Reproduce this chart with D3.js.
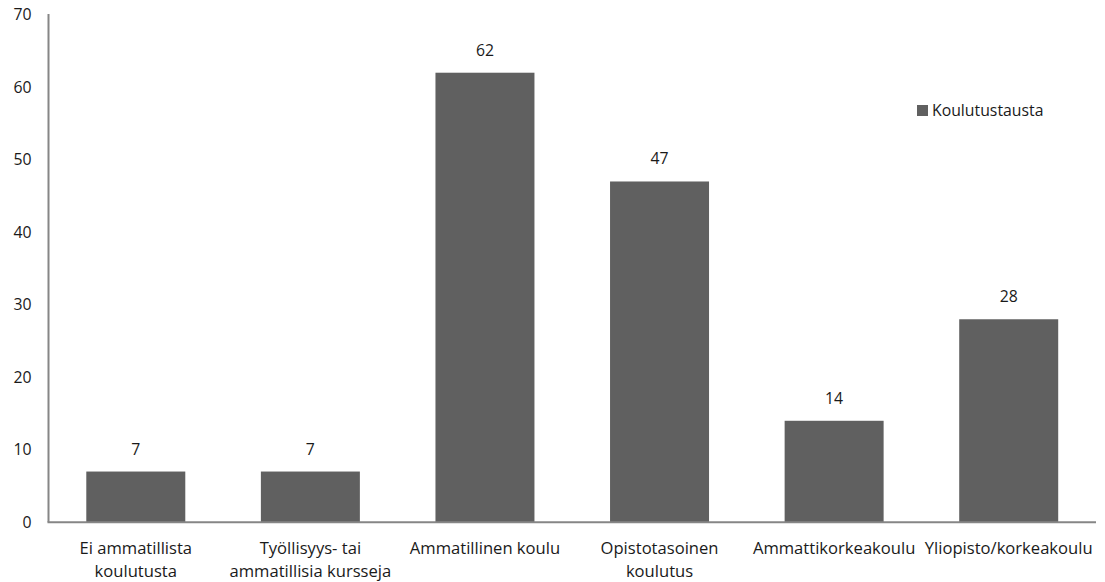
<!DOCTYPE html>
<html>
<head>
<meta charset="utf-8">
<script src="https://cdn.jsdelivr.net/npm/d3@7/dist/d3.min.js"></script>
<style>
  html, body { margin: 0; padding: 0; background: #fff; }
  svg { display: block; font-family: "Open Sans", "Noto Sans", sans-serif; }
</style>
</head>
<body>
<svg id="chart" width="1105" height="582"></svg>
<script>
// Koulutustausta: number of respondents by educational background
const categories = [
  ["Ei ammatillista", "koulutusta"],
  ["Työllisyys- tai", "ammatillisia kursseja"],
  ["Ammatillinen koulu"],
  ["Opistotasoinen", "koulutus"],
  ["Ammattikorkeakoulu"],
  ["Yliopisto/korkeakoulu"]
];
const values = [7, 7, 62, 47, 14, 28];
const yTicks = [0, 10, 20, 30, 40, 50, 60, 70];
const seriesName = "Koulutustausta";

const svg = d3.select("#chart");
const W = 1105;
const x0 = 48.5, x1 = W - 9;
const yBase = 522.3, yTop = 14.7;
const fs = 15.8;
const catFs = 16.6;

const keys = categories.map((c, i) => i);
const x = d3.scaleBand().domain(keys).range([x0, x1]).paddingInner(0.433).paddingOuter(0.2165);
const y = d3.scaleLinear().domain([0, 70]).range([yBase, yTop]);

const axisColor = "#868686";
const barColor = "#606060";
const textColor = "#1a1a1a";

// Bars
svg.append("g").selectAll("rect").data(values).join("rect")
  .attr("x", (d, i) => x(i))
  .attr("y", d => y(d))
  .attr("width", x.bandwidth())
  .attr("height", d => y(0) - y(d))
  .attr("fill", barColor);

// Value labels above bars
svg.append("g").selectAll("text").data(values).join("text")
  .attr("x", (d, i) => x(i) + x.bandwidth() / 2)
  .attr("y", d => y(d) - 17)
  .attr("text-anchor", "middle")
  .attr("font-size", fs)
  .attr("fill", textColor)
  .text(d => d);

// Y axis
const yAxis = d3.axisLeft(y).tickValues(yTicks).tickSize(0).tickPadding(17);
const gy = svg.append("g").attr("transform", `translate(${x0},0)`).call(yAxis);
gy.select(".domain").attr("stroke", axisColor).attr("stroke-width", 2).attr("d", `M0,${yTop - 0.7}V${yBase}`);
gy.selectAll("text").attr("font-size", fs).attr("fill", textColor)
  .attr("font-family", "\"Open Sans\", sans-serif");

// X axis
const xAxis = d3.axisBottom(x).tickSize(0).tickFormat(() => "");
const gx = svg.append("g").attr("transform", `translate(0,${yBase})`).call(xAxis);
gx.select(".domain").attr("stroke", axisColor).attr("stroke-width", 2).attr("d", `M${x0 - 1},0H${x1}`);

// Category labels (one or two lines)
const catG = svg.append("g");
categories.forEach((lines, i) => {
  const t = catG.append("text")
    .attr("x", x(i) + x.bandwidth() / 2)
    .attr("y", 554)
    .attr("text-anchor", "middle")
    .attr("font-size", catFs)
    .attr("fill", textColor);
  lines.forEach((ln, j) => {
    t.append("tspan")
      .attr("x", x(i) + x.bandwidth() / 2)
      .attr("dy", j === 0 ? 0 : 23)
      .text(ln);
  });
});

// Legend
const lg = svg.append("g").attr("transform", "translate(917,105)");
lg.append("rect").attr("width", 11).attr("height", 11).attr("fill", barColor);
lg.append("text").attr("x", 15).attr("y", 11).attr("font-size", fs).attr("fill", textColor).text(seriesName);
</script>
</body>
</html>
